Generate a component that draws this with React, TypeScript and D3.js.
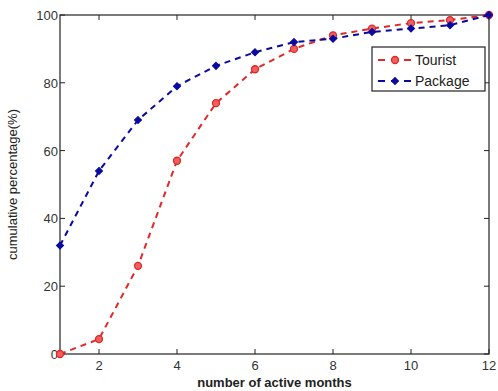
import React, { useRef, useEffect } from "react";
import * as d3 from "d3";

const months = [1, 2, 3, 4, 5, 6, 7, 8, 9, 10, 11, 12];
const tourist = [0, 4.4, 26, 57, 74, 84, 90, 94, 96, 97.6, 98.5, 100];
const pkg = [32, 54, 69, 79, 85, 89, 92, 93, 95, 96, 97, 100];
const xTicks = [2, 4, 6, 8, 10, 12];
const yTicks = [0, 20, 40, 60, 80, 100];

const App = () => {
    const ref = useRef<SVGSVGElement>(null);

    useEffect(() => {
        const width = 498;
        const height = 391;
        const margin = { top: 15, right: 9, bottom: 37, left: 60 };
        const red = "#e02828";
        const blue = "#0a0aa0";

        const svg = d3.select(ref.current)
            .attr("width", width)
            .attr("height", height);
        svg.selectAll("*").remove();

        const x = d3.scaleLinear().domain([1, 12]).range([margin.left, width - margin.right]);
        const y = d3.scaleLinear().domain([0, 100]).range([height - margin.bottom, margin.top]);

        const font = "'Liberation Sans', Arial, sans-serif";
        const axisColor = "#222";

        // frame
        svg.append("rect")
            .attr("x", x(1)).attr("y", y(100))
            .attr("width", x(12) - x(1)).attr("height", y(0) - y(100))
            .attr("fill", "white").attr("stroke", axisColor).attr("stroke-width", 1.2);

        // ticks, inward on all four sides
        const tl = 5;
        xTicks.forEach(t => {
            svg.append("line").attr("x1", x(t)).attr("x2", x(t)).attr("y1", y(0)).attr("y2", y(0) - tl).attr("stroke", axisColor);
            svg.append("line").attr("x1", x(t)).attr("x2", x(t)).attr("y1", y(100)).attr("y2", y(100) + tl).attr("stroke", axisColor);
            svg.append("text").attr("x", x(t)).attr("y", y(0) + 16).attr("text-anchor", "middle")
                .attr("font-family", font).attr("font-size", 13).attr("fill", "#333").text(t);
        });
        yTicks.forEach(t => {
            svg.append("line").attr("x1", x(1)).attr("x2", x(1) + tl).attr("y1", y(t)).attr("y2", y(t)).attr("stroke", axisColor);
            svg.append("line").attr("x1", x(12)).attr("x2", x(12) - tl).attr("y1", y(t)).attr("y2", y(t)).attr("stroke", axisColor);
            svg.append("text").attr("x", x(1) - 2).attr("y", y(t) + 5).attr("text-anchor", "end")
                .attr("font-family", font).attr("font-size", 13).attr("fill", "#333").text(t);
        });

        // axis labels
        svg.append("text").attr("x", (x(1) + x(12)) / 2).attr("y", 387).attr("text-anchor", "middle")
            .attr("font-family", font).attr("font-size", 13).attr("font-weight", "bold").attr("fill", "#222")
            .text("number of active months");
        svg.append("text").attr("transform", `translate(17,${(y(0) + y(100)) / 2}) rotate(-90)`)
            .attr("text-anchor", "middle")
            .attr("font-family", font).attr("font-size", 13).attr("fill", "#222")
            .text("cumulative percentage(%)");

        const line = d3.line<number>().x((d, i) => x(months[i])).y(d => y(d));
        const diamond = d3.symbol().type(d3.symbolDiamond2).size(30)();

        const drawMarker = (g: any, cx: number, cy: number, color: string, marker: string) => {
            if (marker === "circle") {
                g.append("circle").attr("cx", cx).attr("cy", cy).attr("r", 3.5)
                    .attr("fill", "#f06060").attr("stroke", color).attr("stroke-width", 1.3);
            } else {
                g.append("path").attr("transform", `translate(${cx},${cy})`)
                    .attr("d", diamond).attr("fill", color).attr("stroke", color).attr("stroke-width", 1.2);
            }
        };

        const drawSeries = (vals: number[], color: string, marker: string) => {
            svg.append("path").datum(vals).attr("d", line).attr("fill", "none")
                .attr("stroke", color).attr("stroke-width", 2).attr("stroke-dasharray", "6,5");
            vals.forEach((v, i) => drawMarker(svg, x(months[i]), y(v), color, marker));
        };

        drawSeries(tourist, red, "circle");
        drawSeries(pkg, blue, "diamond");

        // legend
        const lg = svg.append("g").attr("transform", "translate(372,47)");
        lg.append("rect").attr("width", 113).attr("height", 44).attr("fill", "white")
            .attr("stroke", axisColor).attr("stroke-width", 1.2);
        const items: [string, string, string][] = [["Tourist", red, "circle"], ["Package", blue, "diamond"]];
        items.forEach(([name, color, marker], i) => {
            const cy = 13 + i * 21;
            lg.append("line").attr("x1", 6).attr("x2", 40).attr("y1", cy).attr("y2", cy)
                .attr("stroke", color).attr("stroke-width", 2).attr("stroke-dasharray", "7,6");
            drawMarker(lg, 23, cy, color, marker);
            lg.append("text").attr("x", 43).attr("y", cy + 5)
                .attr("font-family", font).attr("font-size", 14).attr("fill", "#222").text(name);
        });
    }, []);

    return (
        <div style={{ position: "absolute", left: 0, top: 0 }}>
            <svg ref={ref}></svg>
        </div>
    );
};

export default App;
